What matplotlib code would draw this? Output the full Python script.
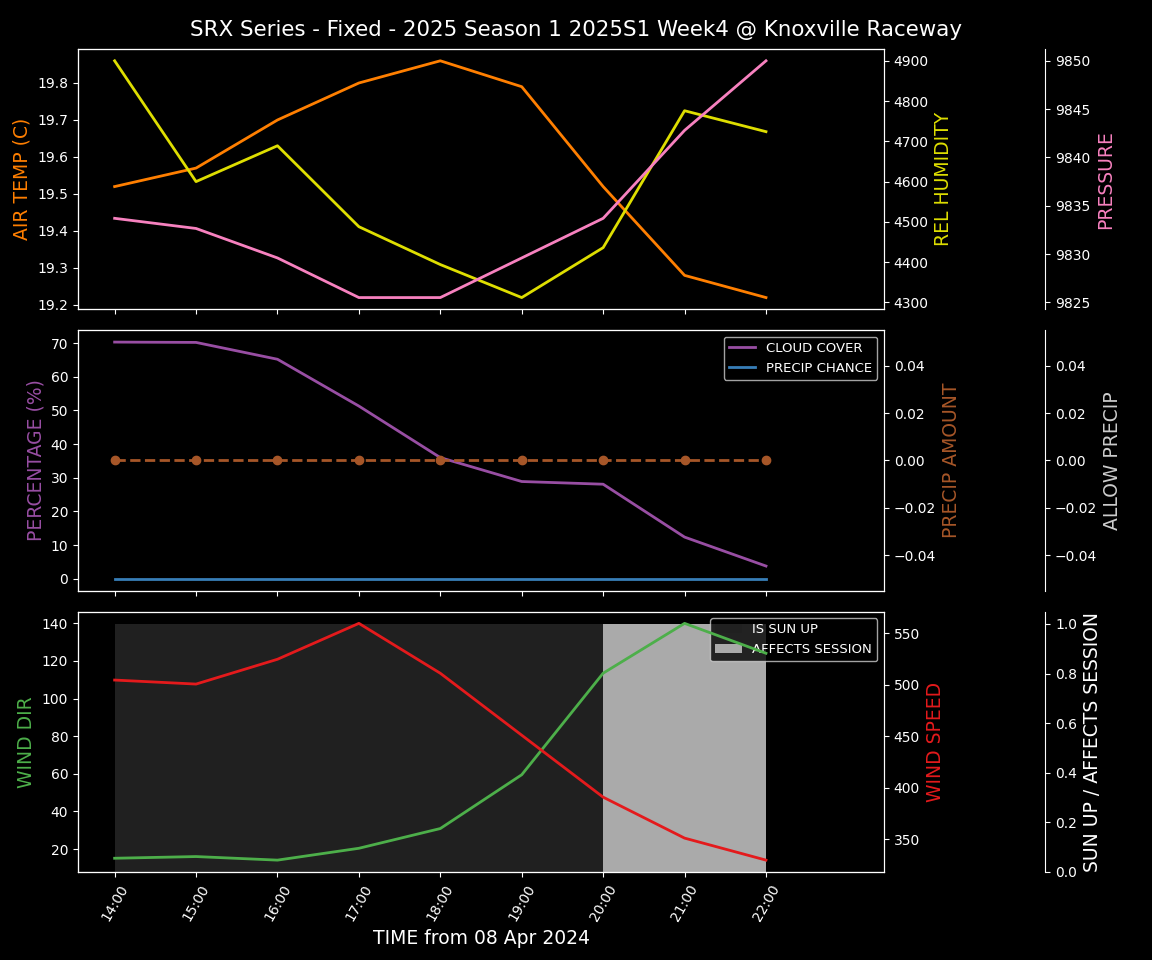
import matplotlib
matplotlib.use("Agg")
import matplotlib.pyplot as plt
import matplotlib.dates as mdates
import matplotlib.ticker as mticker
import pandas as pd

plt.style.use("dark_background")

title = "SRX Series - Fixed - 2025 Season 1 2025S1 Week4 @ Knoxville Raceway"
xlabel = "TIME from 08 Apr 2024"

times = ["2024-04-08 14:00", "2024-04-08 15:00", "2024-04-08 16:00",
         "2024-04-08 17:00", "2024-04-08 18:00", "2024-04-08 19:00",
         "2024-04-08 20:00", "2024-04-08 21:00", "2024-04-08 22:00"]

air_temp = [19.52, 19.57, 19.70, 19.80, 19.86, 19.79, 19.52, 19.28, 19.22]
rel_humidity = [4900, 4600, 4689, 4488, 4394, 4312, 4436, 4776, 4724]
pressure = [9833.7, 9832.65, 9829.6, 9825.5, 9825.5, 9829.6, 9833.7, 9842.8, 9850.0]

cloud_cover = [70.3, 70.2, 65.2, 51.3, 36.0, 28.9, 28.1, 12.4, 3.8]
precip_chance = [0, 0, 0, 0, 0, 0, 0, 0, 0]
precip_amount = [0, 0, 0, 0, 0, 0, 0, 0, 0]
allow_precip = [0, 0, 0, 0, 0, 0, 0, 0, 0]

wind_dir = [15.1, 16.0, 14.1, 20.4, 30.9, 59.5, 113.5, 140.0, 124.1]
wind_speed = [504.6, 500.7, 524.8, 559.7, 511.2, 451.0, 390.8, 351.0, 329.6]
is_sun_up = [1, 1, 1, 1, 1, 1, 0, 0, 0]
affects_session = [0, 0, 0, 0, 0, 0, 1, 1, 0]

C_TEMP = "#ff7f00"
C_HUM = "#dede00"
C_PRES = "#f781bf"
C_CLOUD = "#984ea3"
C_PCHANCE = "#377eb8"
C_PAMT = "#a65628"
C_ALLOW = "#cccccc"
C_WDIR = "#4daf4a"
C_WSPD = "#e41a1c"

x = pd.to_datetime(times)

fig = plt.figure(figsize=(11.52, 9.6), dpi=100)
gs = fig.add_gridspec(3, 1, left=0.0677, right=0.7674, top=0.949, bottom=0.0917, hspace=0.08)
ax1 = fig.add_subplot(gs[0])
ax2 = fig.add_subplot(gs[1], sharex=ax1)
ax3 = fig.add_subplot(gs[2], sharex=ax1)

LBL = 13.5

# --- top panel
ax1.plot(x, air_temp, color=C_TEMP, lw=2)
ax1.set_ylabel("AIR TEMP (C)", color=C_TEMP, fontsize=LBL)
t1 = ax1.twinx()
t1.plot(x, rel_humidity, color=C_HUM, lw=2)
t1.set_ylabel("REL HUMIDITY", color=C_HUM, fontsize=LBL)
t2 = ax1.twinx()
t2.spines["right"].set_position(("axes", 1.2))
t2.plot(x, pressure, color=C_PRES, lw=2)
t2.set_ylabel("PRESSURE", color=C_PRES, fontsize=LBL)

# --- middle panel
ax2.plot(x, cloud_cover, color=C_CLOUD, lw=2, label="CLOUD COVER")
ax2.plot(x, precip_chance, color=C_PCHANCE, lw=2, label="PRECIP CHANCE")
ax2.set_ylabel("PERCENTAGE (%)", color=C_CLOUD, fontsize=LBL)
ax2.legend(loc="upper right", fontsize=9.5)
m1 = ax2.twinx()
m1.plot(x, precip_amount, color=C_PAMT, lw=2, ls="--", marker="o", markersize=6)
m1.set_ylabel("PRECIP AMOUNT", color=C_PAMT, fontsize=LBL)
m2 = ax2.twinx()
m2.spines["right"].set_position(("axes", 1.2))
m2.plot(x, allow_precip, color=C_ALLOW, lw=0)
m2.set_ylabel("ALLOW PRECIP", color=C_ALLOW, fontsize=LBL)

# --- bottom panel
b2 = ax3.twinx()
b3 = ax3.twinx()
b3.spines["right"].set_position(("axes", 1.2))
w = 1 / 24
b3.bar(x, is_sun_up, width=w, align="edge", color="#202020", label="IS SUN UP")
b3.bar(x, affects_session, width=w, align="edge", color="#aaaaaa", label="AFFECTS SESSION")
b3.set_ylabel("SUN UP / AFFECTS SESSION", color="white", fontsize=LBL)
b3.legend(loc="upper right", fontsize=9.5)
b3.set_zorder(0)
ax3.set_zorder(1)
b2.set_zorder(2)
ax3.patch.set_visible(False)
b2.patch.set_visible(False)
ax3.plot(x, wind_dir, color=C_WDIR, lw=2)
ax3.set_ylabel("WIND DIR", color=C_WDIR, fontsize=LBL)
b2.plot(x, wind_speed, color=C_WSPD, lw=2)
b2.set_ylabel("WIND SPEED", color=C_WSPD, fontsize=LBL)

ax3.xaxis.set_major_locator(mticker.FixedLocator(mdates.date2num(x)))
ax3.xaxis.set_major_formatter(mdates.DateFormatter("%H:%M"))
plt.setp(ax1.get_xticklabels(), visible=False)
plt.setp(ax2.get_xticklabels(), visible=False)
plt.setp(ax3.get_xticklabels(), rotation=60)
ax3.set_xlabel(xlabel, fontsize=13.5)

fig.suptitle(title, fontsize=15.4, y=0.979)

fig.savefig("out.png", dpi=100)
